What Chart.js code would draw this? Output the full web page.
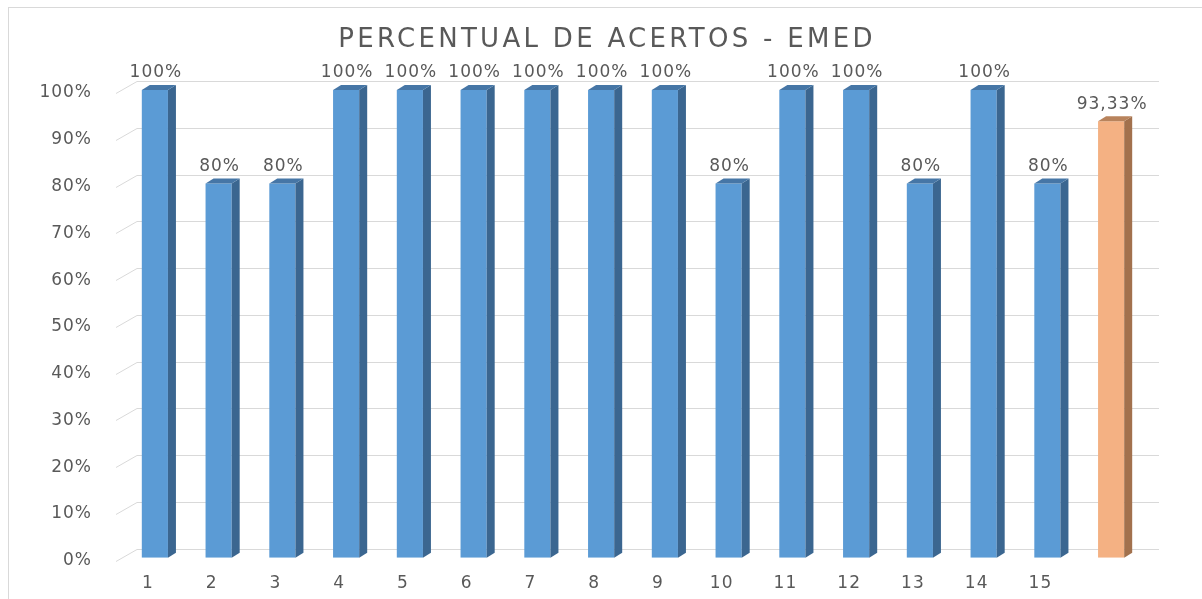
<!DOCTYPE html>
<html>
<head>
<meta charset="utf-8">
<script src="https://cdn.jsdelivr.net/npm/chart.js@4.4.1/dist/chart.umd.min.js"></script>
<style>
  html, body { margin: 0; padding: 0; background: #fff; overflow: hidden; }
  #moldura { position: absolute; left: 8px; top: 7px; width: 1300px; height: 700px; border: 1px solid #d9d9d9; }
  #grafico { position: absolute; left: 0; top: 0; }
</style>
</head>
<body>
<div id="moldura"></div>
<canvas id="grafico" width="1202" height="599"></canvas>
<script>
// Dados do gráfico
const titulo = 'PERCENTUAL DE ACERTOS - EMED';
const questoes = ['1', '2', '3', '4', '5', '6', '7', '8', '9', '10', '11', '12', '13', '14', '15', ''];
const acertos = [100, 80, 80, 100, 100, 100, 100, 100, 100, 80, 100, 100, 80, 100, 80, 93.33];
const ticksY = [0, 10, 20, 30, 40, 50, 60, 70, 80, 90, 100];

const corFrente = ['#5B9BD5', '#F4B183'];
const corLado = ['#3B6690', '#A2714D'];
const corTopo = ['#4676A6', '#B8835C'];
const corTexto = '#595959';
const fonte = 'DejaVu Sans';

// barra 16 = média (laranja)
const idxCor = acertos.map((v, i) => i === acertos.length - 1 ? 1 : 0);

function formata(v) {
    if (Number.isInteger(v)) return v + '%';
    return v.toFixed(2).replace('.', ',') + '%';
}

// paredes / linhas de grade em perspectiva + faces 3D das barras
const grade3D = {
    id: 'grade3D',
    beforeDraw(chart) {
        chart.ctx.letterSpacing = '1px';
    },
    beforeDatasetsDraw(chart) {
        const { ctx, chartArea, scales } = chart;
        ctx.save();
        ctx.strokeStyle = '#d9d9d9';
        ctx.lineWidth = 1;
        ticksY.forEach(v => {
            const y = Math.round(scales.y.getPixelForValue(v)) + 0.5;
            ctx.beginPath();
            ctx.moveTo(chartArea.left - 7, y + 3);
            ctx.lineTo(chartArea.left + 14, y - 9);
            ctx.lineTo(chartArea.right + 16, y - 9);
            ctx.stroke();
        });
        ctx.restore();
    },
    afterDatasetsDraw(chart) {
        const { ctx } = chart;
        const meta = chart.getDatasetMeta(0);
        const dx = 8, dy = -5;
        ctx.save();
        meta.data.forEach((bar, i) => {
            const p = bar.getProps(['x', 'y', 'base', 'width'], true);
            const l = p.x - p.width / 2, r = p.x + p.width / 2;
            // lado
            ctx.fillStyle = corLado[idxCor[i]];
            ctx.beginPath();
            ctx.moveTo(r, p.y);
            ctx.lineTo(r + dx, p.y + dy);
            ctx.lineTo(r + dx, p.base + dy);
            ctx.lineTo(r, p.base);
            ctx.closePath();
            ctx.fill();
            // topo
            ctx.fillStyle = corTopo[idxCor[i]];
            ctx.beginPath();
            ctx.moveTo(l, p.y);
            ctx.lineTo(l + dx, p.y + dy);
            ctx.lineTo(r + dx, p.y + dy);
            ctx.lineTo(r, p.y);
            ctx.closePath();
            ctx.fill();
            // rótulo
            ctx.fillStyle = corTexto;
            ctx.font = '17px "' + fonte + '"';
            ctx.letterSpacing = '1px';
            ctx.textAlign = 'center';
            ctx.textBaseline = 'middle';
            ctx.fillText(formata(acertos[i]), p.x + 1, p.y - 17);
        });
        ctx.restore();
    },
    afterDraw(chart) {
        const { ctx } = chart;
        ctx.save();
        ctx.fillStyle = corTexto;
        ctx.font = '26px "' + fonte + '"';
        ctx.letterSpacing = '3.3px';
        ctx.textAlign = 'center';
        ctx.textBaseline = 'middle';
        ctx.fillText(titulo, chart.width / 2 + 6, 40);
        ctx.restore();
    }
};

new Chart(document.getElementById('grafico'), {
    type: 'bar',
    data: {
        labels: questoes,
        datasets: [{
            data: acertos,
            backgroundColor: idxCor.map(c => corFrente[c]),
            barPercentage: 0.41,
            categoryPercentage: 1.0
        }]
    },
    options: {
        responsive: false,
        animation: false,
        devicePixelRatio: 1,
        layout: { padding: { left: 0, right: 59, top: 90, bottom: 0 } },
        plugins: {
            legend: { display: false },
            tooltip: { enabled: false },
            title: { display: false }
        },
        scales: {
            y: {
                min: 0,
                max: 100,
                afterFit: s => { s.width = 123; },
                ticks: {
                    stepSize: 10,
                    padding: 31,
                    labelOffset: 3,
                    color: corTexto,
                    font: { family: fonte, size: 17 },
                    callback: v => v + '%'
                },
                grid: { display: false, drawTicks: false },
                border: { display: false }
            },
            x: {
                afterFit: s => { s.height = 40; },
                ticks: {
                    padding: 16,
                    labelOffset: -7,
                    color: corTexto,
                    font: { family: fonte, size: 17 }
                },
                grid: { display: false, drawTicks: false },
                border: { display: false }
            }
        }
    },
    plugins: [grade3D]
});
</script>
</body>
</html>
